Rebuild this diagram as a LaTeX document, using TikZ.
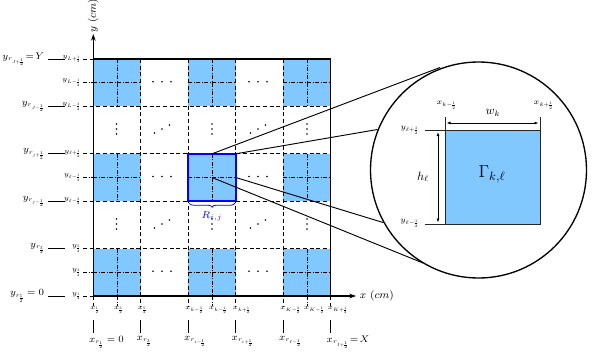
\RequirePackage{fix-cm}
\documentclass[tikz,border=0pt]{standalone}
\usetikzlibrary{arrows.meta,decorations.pathreplacing}
\definecolor{cellblue}{RGB}{128,200,255}
\setlength{\nulldelimiterspace}{0pt}
\DeclareMathSizes{7.2}{7.2}{4.5}{3.2}
\begin{document}
\begin{tikzpicture}[x=0.75pt,y=-0.75pt,
  gridline/.style={line width=0.6pt,dash pattern=on 3pt off 2pt},
  dashdot/.style={line width=0.6pt,dash pattern=on 3pt off 1.2pt on 0.6pt off 1.2pt},
  frameline/.style={line width=0.9pt},
  axisline/.style={line width=0.9pt,-{Stealth[length=5pt,width=3.5pt]}},
  fine/.style={font=\fontsize{5.2}{6}\selectfont,inner sep=0.5pt},
  zlab/.style={font=\fontsize{5.8}{7}\selectfont,inner sep=0.5pt},
  coarse/.style={font=\fontsize{7.2}{8}\selectfont,inner sep=0.5pt},
  pt/.style={fill=black,draw=none},
  spyline/.style={line width=0.7pt},
  ccirc/.style={line width=1pt},
  dimarrow/.style={line width=0.6pt,{Latex[length=3pt,width=2.2pt]}-{Latex[length=3pt,width=2.2pt]}}]
\useasboundingbox (0,0) rectangle (593,361);
% blue cells
\foreach \cx in {93.3,188.3,283.3}
  \foreach \cy in {59,153.8,248.6}
    \fill[cellblue] (\cx,\cy) rectangle ++(47.5,47.4);
% dash-dot lines inside blue cells
\foreach \cx in {93.3,188.3,283.3}
  \foreach \cy in {59,153.8,248.6} {
    \draw[dashdot] (\cx+23.75,\cy) -- (\cx+23.75,\cy+47.4);
    \draw[dashdot] (\cx,\cy+23.7) -- (\cx+47.5,\cy+23.7);
  }
% dash-dot ticks
\foreach \yy in {82.7,177.5,272.3} \draw[dashdot] (83,\yy) -- (93.3,\yy);
\foreach \xx in {117,212,307} \draw[dashdot] (\xx,296) -- (\xx,306);
% dashed grid lines
\foreach \xx in {140.8,188.3,235.8,283.3} \draw[gridline] (\xx,59) -- (\xx,306);
\foreach \xx in {93.3,330.8} \draw[gridline] (\xx,296) -- (\xx,306);
\foreach \yy in {106.4,153.8,201.2,248.6} \draw[gridline] (83,\yy) -- (330.8,\yy);
\foreach \yy in {59,296} \draw[gridline] (83,\yy) -- (93.3,\yy);
% frame and axes
\draw[frameline] (93.3,59) -- (330.8,59) -- (330.8,296);
\coordinate (O) at (93.3,296);
\coordinate (xend) at (356,296);
\coordinate (yend) at (93.3,34);
\draw[axisline] (O) -- (xend);
\draw[axisline] (O) -- (yend);
\node[coarse,font=\fontsize{8}{9}\selectfont,anchor=west] (xlab) at (359,296) {$x\ (cm)$};
\node[coarse,font=\fontsize{8}{9}\selectfont,rotate=90] (ylab) at (93.3,16) {$y\ (cm)$};
% dots
\foreach \cx in {162,258} \foreach \cy in {81.7,176.5,271.3}
  \foreach \d in {-9,0,9} \fill[pt] (\cx+\d,\cy) circle (0.9);
\foreach \cx in {116.5,212,307} \foreach \cy in {129,224}
  \foreach \d in {-5,0,5} \fill[pt] (\cx,\cy+\d) circle (0.9);
\foreach \cx in {162,258} \foreach \cy in {129,224} {
  \fill[pt] (\cx-7.5,\cy+4) circle (0.9);
  \fill[pt] (\cx,\cy) circle (0.9);
  \fill[pt] (\cx+7.5,\cy-4) circle (0.9);
}
% highlighted coarse cell
\draw[blue,line width=1.3pt] (188.3,153.8) rectangle (235.8,201.2);
\draw[blue,line width=0.6pt,decorate,decoration={brace,amplitude=3pt,mirror}] (189.3,203.2) -- (234.8,203.2);
\node[coarse,font=\fontsize{7.5}{9}\selectfont,text=blue] (Rij) at (212,216) {$R_{i,j}$};
% left labels
\foreach \yy/\t [count=\n] in {59/{y_{L+\frac12}},82.7/{y_{L-\frac12}},106.4/{y_{L-\frac32}},153.8/{y_{\ell+\frac12}},177.5/{y_{\ell-\frac12}},201.2/{y_{\ell-\frac32}},248.6/{y_{\frac52}},272.3/{y_{\frac32}},296/{y_{\frac12}}}
  \node[fine,anchor=east] (fy\n) at (81,\yy) {$\t$};
\foreach \yy/\t [count=\n] in {59/{y_{r_{J+\frac12}}\!=\!Y},106.4/{y_{r_{J-\frac12}}},153.8/{y_{r_{j+\frac12}}},201.2/{y_{r_{j-\frac12}}},248.6/{y_{r_{\frac32}}},296/{y_{r_{\frac12}}=0}} {
  \node[coarse,anchor=east] (cy\n) at (45,\yy) {$\t$};
  \draw[line width=0.7pt] (48,\yy) -- (65,\yy);
}
% bottom labels
\foreach \xx/\t [count=\n] in {93.3/{x_{\frac12}},117/{x_{\frac32}},140.8/{x_{\frac52}},188.3/{x_{k-\frac32}},212/{x_{k-\frac12}},235.8/{x_{k+\frac12}},283.3/{x_{K-\frac32}},307/{x_{K-\frac12}},330.8/{x_{K+\frac12}}}
  \node[fine,anchor=north west] (fx\n) at (\xx-4,305.5) {$\t$};
\foreach \xx/\t [count=\n] in {93.3/{x_{r_{\frac12}}=0},140.8/{x_{r_{\frac32}}},188.3/{x_{r_{i-\frac12}}},235.8/{x_{r_{i+\frac12}}},283.3/{x_{r_{I-\frac12}}},330.8/{x_{r_{I+\frac12}}\!=\!X}} {
  \node[coarse,anchor=north west] (cx\n) at (\xx-5,335) {$\t$};
  \draw[line width=0.7pt] (\xx,320) -- (\xx,333);
}
% magnifier
\coordinate (C) at (478.5,170);
\draw[ccirc] (C) circle (108);
\coordinate (a1) at (212,153.8);
\coordinate (a2) at (235.8,153.8);
\coordinate (a3) at (235.8,177.5);
\coordinate (a4) at (212,177.5);
\coordinate (b1) at (440,67.5);
\coordinate (b2) at (377.5,129.5);
\coordinate (b3) at (383,222.5);
\coordinate (b4) at (423,263);
\draw[spyline] (a1) -- (b1);
\draw[spyline] (a2) -- (b2);
\draw[spyline] (a3) -- (b3);
\draw[spyline] (a4) -- (b4);
% zoomed cell
\fill[cellblue] (445,130) rectangle (540,224);
\draw[line width=0.7pt,black!85] (445,117) -- (445,224) -- (540,224) -- (540,117);
\draw[line width=0.7pt,black!85] (425,130) -- (540,130);
\draw[line width=0.7pt,black!85] (425,224) -- (445,224);
\node[zlab,anchor=south] (xkm) at (446,110) {$x_{k-\frac12}$};
\node[zlab,anchor=south] (xkp) at (543,110) {$x_{k+\frac12}$};
\node[zlab,anchor=east] (ylp) at (419,130) {$y_{\ell+\frac12}$};
\node[zlab,anchor=east] (ylm) at (419,223) {$y_{\ell-\frac12}$};
\coordinate (w1) at (446.5,123);
\coordinate (w2) at (538.5,123);
\draw[dimarrow] (w1) -- (w2);
\node[font=\fontsize{9}{10}\selectfont] (wk) at (493,113) {$w_k$};
\coordinate (h1) at (438,132);
\coordinate (h2) at (438,222.5);
\draw[dimarrow] (h1) -- (h2);
\node[font=\fontsize{9}{10}\selectfont] (hl) at (423,177) {$h_\ell$};
\node[font=\fontsize{13}{15}\selectfont] (G) at (492,174) {$\Gamma_{k,\ell}$};
\end{tikzpicture}
\end{document}
